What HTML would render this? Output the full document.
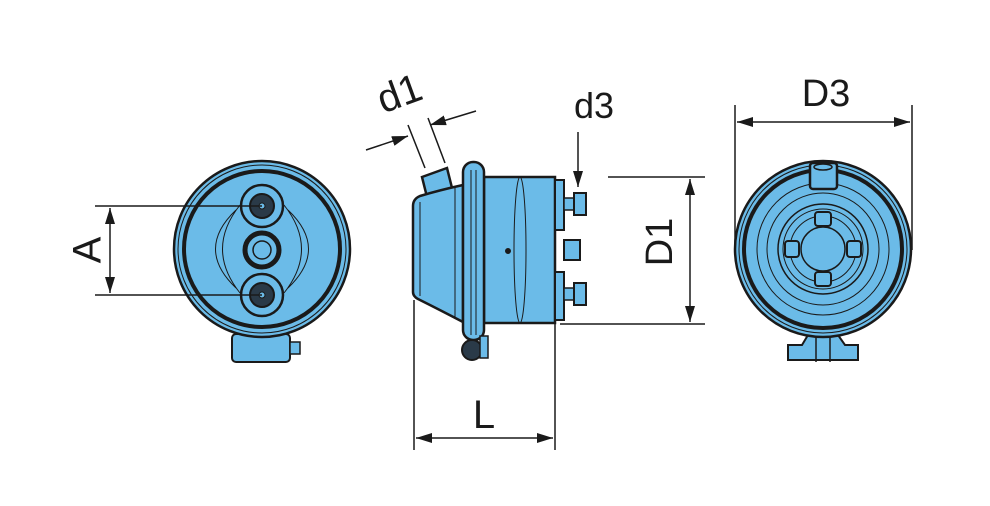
<!DOCTYPE html>
<html><head><style>
html,body{margin:0;padding:0;background:#fff;}
svg{display:block;}
text{font-family:"Liberation Sans",sans-serif;fill:#1a1a1a;}
</style></head><body>
<svg width="990" height="506" viewBox="0 0 990 506" xmlns="http://www.w3.org/2000/svg">
<defs>
<marker id="arB" markerWidth="16" markerHeight="10" refX="16" refY="5" orient="auto" markerUnits="userSpaceOnUse"><path d="M0,0 L16,5 L0,10 Z" fill="#1a1a1a"/></marker>
</defs>
<g stroke="#1a1a1a" fill="none">
<!-- LEFT VIEW -->
<rect x="232" y="334" width="58" height="28" rx="4" fill="#6bbbe8" stroke-width="2"/>
<rect x="290" y="342" width="10" height="12" fill="#6bbbe8" stroke-width="1.5"/>
<circle cx="262" cy="249" r="88" fill="#6bbbe8" stroke-width="2.5"/>
<circle cx="262" cy="249" r="84" stroke-width="1"/>
<circle cx="262" cy="249" r="78" stroke-width="4"/>
<path d="M240,205 Q205,249 240,293 M284,205 Q319,249 284,293 M236,210 Q195,249 236,288 M288,210 Q329,249 288,288" stroke-width="1"/>
<circle cx="262" cy="206" r="21" fill="#6bbbe8" stroke-width="2.5"/>
<circle cx="262" cy="206" r="12" fill="#2a3a48" stroke-width="2"/>
<circle cx="262" cy="206" r="3" fill="#6bbbe8" stroke-width="1"/>
<circle cx="262" cy="295" r="21" fill="#6bbbe8" stroke-width="2.5"/>
<circle cx="262" cy="295" r="12" fill="#2a3a48" stroke-width="2"/>
<circle cx="262" cy="295" r="3" fill="#6bbbe8" stroke-width="1"/>
<circle cx="262" cy="250" r="17" fill="#6bbbe8" stroke-width="5"/>
<circle cx="262" cy="250" r="9" stroke-width="1.5"/>
<line x1="95" y1="206" x2="262" y2="206" stroke-width="1.5"/>
<line x1="95" y1="295" x2="262" y2="295" stroke-width="1.5"/>
<line x1="110" y1="250" x2="110" y2="208" stroke-width="1.5" marker-end="url(#arB)"/>
<line x1="110" y1="250" x2="110" y2="293" stroke-width="1.5" marker-end="url(#arB)"/>
<!-- MIDDLE VIEW -->
<line x1="414" y1="300" x2="414" y2="450" stroke-width="1.5"/>
<line x1="555" y1="320" x2="555" y2="450" stroke-width="1.5"/>
<line x1="484" y1="438" x2="416" y2="438" stroke-width="1.5" marker-end="url(#arB)"/>
<line x1="484" y1="438" x2="553" y2="438" stroke-width="1.5" marker-end="url(#arB)"/>
<path d="M422,177 L447,168 L452,188 L427,197 Z" fill="#6bbbe8" stroke-width="2.5"/>
<path d="M463,185 Q440,190 420,196 Q413,199 413,206 L413,292 Q413,297 420,300 Q440,310 463,322 Z" fill="#6bbbe8" stroke-width="2.5"/>
<line x1="420" y1="202" x2="420" y2="296" stroke-width="1"/>
<line x1="455" y1="188" x2="455" y2="318" stroke-width="1"/>
<rect x="484" y="177" width="71" height="146" fill="#6bbbe8" stroke-width="2.5"/>
<ellipse cx="520" cy="250" rx="6" ry="73" stroke-width="1"/>
<circle cx="508" cy="251" r="2.5" fill="#1a1a1a"/>
<rect x="463" y="162" width="21" height="178" rx="10" fill="#6bbbe8" stroke-width="2.5"/>
<line x1="471" y1="170" x2="471" y2="335" stroke-width="1"/>
<line x1="476" y1="170" x2="476" y2="335" stroke-width="1"/>
<circle cx="472" cy="350" r="10" fill="#2a3a48" stroke-width="2"/>
<rect x="480" y="336" width="8" height="22" fill="#6bbbe8" stroke-width="1.5"/>
<rect x="555" y="180" width="9" height="50" fill="#6bbbe8" stroke-width="2"/>
<rect x="555" y="272" width="9" height="48" fill="#6bbbe8" stroke-width="2"/>
<rect x="564" y="198" width="10" height="12" fill="#6bbbe8" stroke-width="1.5"/>
<rect x="574" y="193" width="12" height="22" fill="#6bbbe8" stroke-width="2"/>
<rect x="564" y="240" width="16" height="20" fill="#6bbbe8" stroke-width="2"/>
<rect x="564" y="288" width="10" height="12" fill="#6bbbe8" stroke-width="1.5"/>
<rect x="574" y="283" width="12" height="22" fill="#6bbbe8" stroke-width="2"/>
<line x1="608" y1="177" x2="705" y2="177" stroke-width="1.5"/>
<line x1="560" y1="324" x2="705" y2="324" stroke-width="1.5"/>
<line x1="690" y1="250" x2="690" y2="179" stroke-width="1.5" marker-end="url(#arB)"/>
<line x1="690" y1="250" x2="690" y2="322" stroke-width="1.5" marker-end="url(#arB)"/>
<line x1="578" y1="132" x2="578" y2="187" stroke-width="1.5" marker-end="url(#arB)"/>
<line x1="408" y1="125" x2="425" y2="168" stroke-width="1.5"/>
<line x1="428" y1="118" x2="445" y2="163" stroke-width="1.5"/>
<line x1="366" y1="150" x2="408" y2="136" stroke-width="1.5" marker-end="url(#arB)"/>
<line x1="476" y1="111" x2="430" y2="125" stroke-width="1.5" marker-end="url(#arB)"/>
<!-- RIGHT VIEW -->
<line x1="735" y1="105" x2="735" y2="250" stroke-width="1.5"/>
<line x1="912" y1="105" x2="912" y2="250" stroke-width="1.5"/>
<line x1="823" y1="122" x2="737" y2="122" stroke-width="1.5" marker-end="url(#arB)"/>
<line x1="823" y1="122" x2="910" y2="122" stroke-width="1.5" marker-end="url(#arB)"/>
<path d="M808,335 L838,335 L845,345 L858,345 L858,360 L788,360 L788,345 L802,345 Z" fill="#6bbbe8" stroke-width="2"/>
<line x1="816" y1="338" x2="816" y2="362" stroke-width="1.5"/>
<line x1="830" y1="338" x2="830" y2="362" stroke-width="1.5"/>
<circle cx="823" cy="249" r="88" fill="#6bbbe8" stroke-width="2.5"/>
<circle cx="823" cy="249" r="84" stroke-width="1"/>
<circle cx="823" cy="249" r="79" stroke-width="4"/>
<circle cx="823" cy="249" r="66" stroke-width="1"/>
<circle cx="823" cy="249" r="56" stroke-width="1"/>
<circle cx="823" cy="249" r="45" stroke-width="1.5"/>
<circle cx="823" cy="249" r="40" stroke-width="1"/>
<circle cx="823" cy="249" r="33" stroke-width="1"/>
<circle cx="823" cy="249" r="22" stroke-width="1.5"/>
<rect x="815" y="212" width="16" height="14" rx="3" fill="#6bbbe8" stroke-width="2"/>
<rect x="815" y="272" width="16" height="14" rx="3" fill="#6bbbe8" stroke-width="2"/>
<rect x="785" y="241" width="14" height="16" rx="3" fill="#6bbbe8" stroke-width="2"/>
<rect x="847" y="241" width="14" height="16" rx="3" fill="#6bbbe8" stroke-width="2"/>
<rect x="810" y="163" width="27" height="26" rx="3" fill="#6bbbe8" stroke-width="2.5"/>
<ellipse cx="823" cy="167" rx="9" ry="3" stroke-width="1.5"/>
</g>
<text x="0" y="0" font-size="40" transform="translate(90,250) rotate(-90)" text-anchor="middle" dominant-baseline="middle">A</text>
<text x="0" y="0" font-size="40" transform="translate(404,106) rotate(-20)" text-anchor="middle">d1</text>
<text x="594" y="118" font-size="36" text-anchor="middle">d3</text>
<text x="0" y="0" font-size="38" transform="translate(662,242) rotate(-90)" text-anchor="middle" dominant-baseline="middle">D1</text>
<text x="484" y="428" font-size="40" text-anchor="middle">L</text>
<text x="826" y="106" font-size="38" text-anchor="middle">D3</text>
</svg>
</body></html>
